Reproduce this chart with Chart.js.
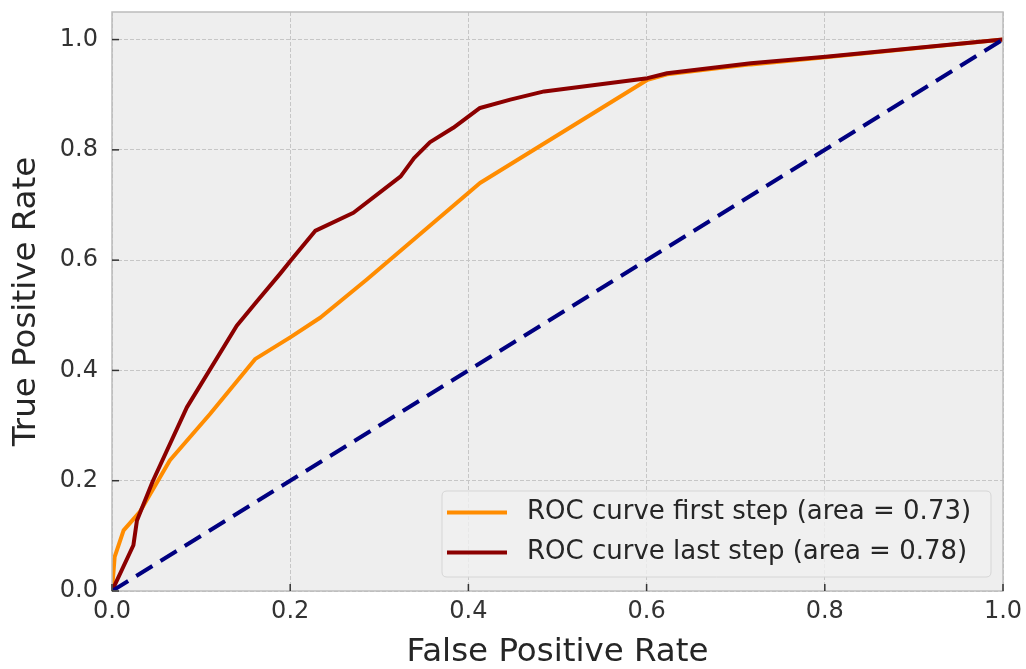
<!DOCTYPE html>
<html>
<head>
<meta charset="utf-8">
<script src="https://cdn.jsdelivr.net/npm/chart.js@4.4.0/dist/chart.umd.min.js"></script>
<style>
  html, body { margin: 0; padding: 0; background: #ffffff; }
  #wrap { width: 1026px; height: 669px; position: relative; }
</style>
</head>
<body>
<div id="wrap"><canvas id="c" width="1026" height="669"></canvas></div>
<script>
// ---- data ----
const fprFirst = [0, 0.003, 0.013, 0.031, 0.065, 0.110, 0.161, 0.200, 0.234, 0.286, 0.413, 0.601, 0.623, 0.717, 0.801, 1.0];
const tprFirst = [0, 0.062, 0.110, 0.143, 0.237, 0.321, 0.421, 0.460, 0.496, 0.565, 0.740, 0.927, 0.937, 0.955, 0.968, 1.0];

const fprLast = [0, 0.024, 0.028, 0.046, 0.084, 0.140, 0.1625, 0.189, 0.202, 0.228, 0.271, 0.324, 0.339, 0.357, 0.383, 0.413, 0.447, 0.485, 0.601, 0.623, 0.717, 0.801, 1.0];
const tprLast = [0, 0.083, 0.128, 0.200, 0.333, 0.481, 0.525, 0.576, 0.602, 0.653, 0.686, 0.752, 0.785, 0.814, 0.840, 0.876, 0.891, 0.906, 0.930, 0.939, 0.957, 0.969, 1.0];

const diagX = [0, 1];
const diagY = [0, 1];

const labelFirst = 'ROC curve first step (area = 0.73)';
const labelLast = 'ROC curve last step (area = 0.78)';
const xTitle = 'False Positive Rate';
const yTitle = 'True Positive Rate';
const tickValues = [0, 0.2, 0.4, 0.6, 0.8, 1.0];

const toPts = (xs, ys) => xs.map((x, i) => ({ x: x, y: ys[i] }));

const FONT = "'DejaVu Sans', 'Liberation Sans', sans-serif";

const plotBg = {
  id: 'plotBg',
  beforeDraw(chart) {
    const { ctx, chartArea: a } = chart;
    ctx.save();
    ctx.fillStyle = '#eeeeee';
    ctx.fillRect(a.left, a.top, a.right - a.left, a.bottom - a.top);
    ctx.restore();
  },
  afterDatasetsDraw(chart) {
    const { ctx, chartArea: a, scales } = chart;
    ctx.save();
    ctx.strokeStyle = '#bcbcbc';
    ctx.lineWidth = 1.5;
    ctx.strokeRect(a.left, a.top, a.right - a.left, a.bottom - a.top);
    ctx.strokeStyle = '#333333';
    ctx.lineWidth = 1.5;
    tickValues.forEach(v => {
      const y = scales.y.getPixelForValue(v);
      ctx.beginPath(); ctx.moveTo(a.left, y); ctx.lineTo(a.left + 7, y); ctx.stroke();
      const x = scales.x.getPixelForValue(v);
      ctx.beginPath(); ctx.moveTo(x, a.bottom); ctx.lineTo(x, a.bottom - 7); ctx.stroke();
    });
    ctx.restore();
  },
  afterDraw(chart) {
    const { ctx } = chart;
    const ds = chart.data.datasets.filter(d => d.inLegend);
    const bx = 442, by = 491, bw = 549, bh = 86, r = 5;
    ctx.save();
    ctx.beginPath();
    ctx.moveTo(bx + r, by);
    ctx.lineTo(bx + bw - r, by); ctx.quadraticCurveTo(bx + bw, by, bx + bw, by + r);
    ctx.lineTo(bx + bw, by + bh - r); ctx.quadraticCurveTo(bx + bw, by + bh, bx + bw - r, by + bh);
    ctx.lineTo(bx + r, by + bh); ctx.quadraticCurveTo(bx, by + bh, bx, by + bh - r);
    ctx.lineTo(bx, by + r); ctx.quadraticCurveTo(bx, by, bx + r, by);
    ctx.closePath();
    ctx.fillStyle = 'rgba(240,240,240,0.8)';
    ctx.fill();
    ctx.strokeStyle = '#d6d6d6';
    ctx.lineWidth = 1;
    ctx.stroke();
    ds.forEach((d, i) => {
      const cy = 512.5 + i * 40;
      ctx.strokeStyle = d.borderColor;
      ctx.lineWidth = 4;
      ctx.beginPath(); ctx.moveTo(447, cy); ctx.lineTo(507, cy); ctx.stroke();
      ctx.fillStyle = '#262626';
      ctx.font = '26px ' + FONT;
      ctx.textBaseline = 'middle';
      ctx.textAlign = 'left';
      ctx.fillText(d.label, 527, cy);
    });
    ctx.restore();
  }
};

new Chart(document.getElementById('c'), {
  type: 'line',
  data: {
    datasets: [
      { label: labelFirst, data: toPts(fprFirst, tprFirst), borderColor: '#ff8c00', borderWidth: 4,
        pointRadius: 0, tension: 0, fill: false, order: 3, inLegend: true, borderJoinStyle: 'round' },
      { label: labelLast, data: toPts(fprLast, tprLast), borderColor: '#8b0000', borderWidth: 4,
        pointRadius: 0, tension: 0, fill: false, order: 2, inLegend: true, borderJoinStyle: 'round' },
      { label: 'chance', data: toPts(diagX, diagY), borderColor: '#000080', borderWidth: 4,
        borderDash: [19, 9.5], pointRadius: 0, tension: 0, fill: false, order: 1, inLegend: false }
    ]
  },
  options: {
    responsive: false,
    animation: false,
    events: [],
    layout: { padding: { top: 12, right: 23, bottom: 0, left: 0 } },
    plugins: { legend: { display: false }, tooltip: { enabled: false } },
    scales: {
      x: {
        type: 'linear', min: 0, max: 1,
        afterBuildTicks: s => { s.ticks = tickValues.map(v => ({ value: v })); },
        afterFit: s => { s.height = 78; s.paddingLeft = 0; s.paddingRight = 0; },
        ticks: { color: '#333333', font: { family: FONT, size: 24 }, padding: 6,
                 maxRotation: 0, autoSkip: false, callback: v => v.toFixed(1) },
        grid: { color: '#c6c6c6', lineWidth: 1, drawTicks: false },
        border: { display: false, dash: [4, 2] },
        title: { display: true, text: xTitle, color: '#262626',
                 font: { family: FONT, size: 32.5, lineHeight: 1 }, padding: { top: 0, bottom: 0 } }
      },
      y: {
        type: 'linear', min: 0, max: 1.05,
        afterBuildTicks: s => { s.ticks = tickValues.map(v => ({ value: v })); },
        afterFit: s => { s.width = 112; s.paddingTop = 0; s.paddingBottom = 0; },
        ticks: { color: '#333333', font: { family: FONT, size: 24 }, padding: 14,
                 autoSkip: false, callback: v => v.toFixed(1) },
        grid: { color: '#c6c6c6', lineWidth: 1, drawTicks: false },
        border: { display: false, dash: [4, 2] },
        title: { display: true, text: yTitle, color: '#262626',
                 font: { family: FONT, size: 32.5, lineHeight: 1 }, padding: { top: 10, bottom: 0 } }
      }
    }
  },
  plugins: [plotBg]
});
</script>
</body>
</html>
